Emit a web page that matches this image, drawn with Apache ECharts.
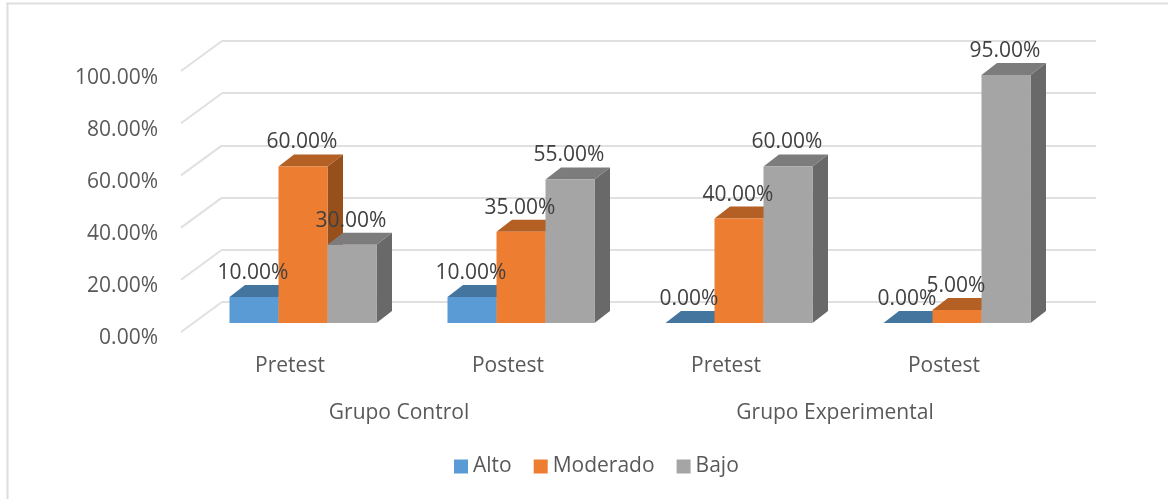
<!DOCTYPE html>
<html><head><meta charset="utf-8">
<style>html,body{margin:0;padding:0;background:#fff}#c{width:1168px;height:499px}</style>
<script src="https://cdn.jsdelivr.net/npm/echarts@6/dist/echarts.min.js"></script>
</head><body><div id="c"></div>
<script>
const sessions = ['Pretest','Postest','Pretest','Postest'];
const groups = ['Grupo Control','Grupo Experimental'];
const alto = [10,10,0,0];
const moderado = [60,35,40,5];
const bajo = [30,55,60,95];
const yTicks = [0,20,40,60,80,100];
const FONT = '"Open Sans"';
const DX = 15.5, DY = 12, GROUP_FRAC = 147/218;

function barSeries(name, idx, data, front, top, side){
  return {
    type:'custom', name, xAxisIndex:0, yAxisIndex:0, z:10,
    itemStyle:{color:front},
    encode:{x:0,y:1},
    data:data.map((v,i)=>[i,v]),
    clip:false,
    renderItem(params, api){
      const c = api.value(0), v = api.value(1);
      const base = api.coord([c,0]), tip = api.coord([c,v]);
      const band = api.size([1,0])[0];
      const w = band*GROUP_FRAC/3;
      const x0 = base[0]-1.5*w + idx*w, x1 = x0+w, yb = base[1], yt = tip[1];
      const kids = [];
      kids.push({type:'polygon',z2:idx*2+1,shape:{points:[[x1,yb],[x1+DX,yb-DY],[x1+DX,yt-DY],[x1,yt]]},style:{fill:side}});
      kids.push({type:'polygon',z2:idx*2+1,shape:{points:[[x0,yt],[x0+DX,yt-DY],[x1+DX,yt-DY],[x1,yt]]},style:{fill:top}});
      if(v>0) kids.push({type:'rect',z2:idx*2+2,shape:{x:x0,y:yt,width:w,height:yb-yt},style:{fill:front}});
      kids.push({type:'text',z2:100,style:{text:v.toFixed(2)+'%',x:(x0+x1)/2-1,y:yt-24,align:'center',verticalAlign:'middle',fill:'#404040',font:'21px '+FONT}});
      return {type:'group',children:kids};
    }
  };
}
const option = {
  animation:false,
  backgroundColor:'#fff',
  textStyle:{fontFamily:FONT},
  graphic:[
    {type:'line',silent:true,z:0,shape:{x1:6,y1:3.5,x2:1168,y2:3.5},style:{stroke:'#dedede',lineWidth:2}},
    {type:'line',silent:true,z:0,shape:{x1:7.5,y1:3,x2:7.5,y2:499},style:{stroke:'#dedede',lineWidth:2}}
  ],
  legend:{
    data:['Alto','Moderado','Bajo'],
    left:454, top:456, padding:0, itemWidth:14, itemHeight:14, itemGap:22,
    icon:'rect',
    textStyle:{color:'#595959',fontSize:21,fontFamily:FONT},
    selectedMode:false
  },
  grid:[
    {left:194,width:872,top:62,height:261},
    {left:222,width:874,top:41,height:261},
    {left:181,width:872,top:78,height:260}
  ],
  xAxis:[
    {gridIndex:0,type:'category',data:sessions,show:false},
    {gridIndex:1,type:'category',data:sessions,show:false},
    {gridIndex:2,type:'category',data:sessions,position:'bottom',axisLine:{show:false},axisTick:{show:false},
     axisLabel:{color:'#595959',fontSize:21,fontFamily:FONT,margin:18}},
    {gridIndex:2,type:'category',data:groups,position:'bottom',offset:47,axisLine:{show:false},axisTick:{show:false},
     axisLabel:{color:'#595959',fontSize:21,fontFamily:FONT,margin:18}}
  ],
  yAxis:[
    {gridIndex:0,type:'value',min:0,max:100,interval:20,show:false},
    {gridIndex:1,type:'value',min:0,max:100,interval:20,axisLine:{show:false},axisTick:{show:false},axisLabel:{show:false},
     splitLine:{show:true,lineStyle:{color:'#e0e0e0',width:2}}},
    {gridIndex:2,type:'value',min:0,max:100,interval:20,axisLine:{show:false},axisTick:{show:false},splitLine:{show:false},
     axisLabel:{color:'#595959',fontSize:21,fontFamily:FONT,margin:23,formatter:v=>v.toFixed(2)+'%'}}
  ],
  series:[
    {type:'custom',xAxisIndex:1,yAxisIndex:1,z:1,silent:true,clip:false,
     data:yTicks.map(v=>[0,v]),encode:{x:0,y:1},
     renderItem(params,api){
       const p = api.coord([0,api.value(1)]);
       const x = params.coordSys.x;
       return {type:'line',shape:{x1:x-41,y1:p[1]+30,x2:x,y2:p[1]},style:{stroke:'#e0e0e0',lineWidth:2}};
     }},
    barSeries('Alto',0,alto,'#5B9BD5','#44759F','#3E6B93'),
    barSeries('Moderado',1,moderado,'#ED7D31','#B45F23','#97501C'),
    barSeries('Bajo',2,bajo,'#A5A5A5','#7C7C7C','#696969')
  ]
};
const chart = echarts.init(document.getElementById('c'),null,{renderer:'canvas'});
chart.setOption(option);
</script></body></html>
